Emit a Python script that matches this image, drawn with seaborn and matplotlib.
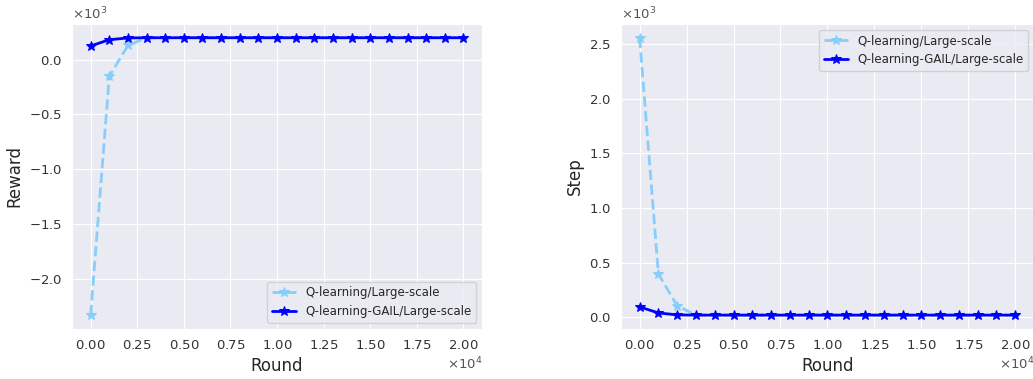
import numpy as np
import pandas as pd
import matplotlib
matplotlib.use("Agg")
import matplotlib.pyplot as plt
import seaborn as sns

# ─── Data ─────────────────────────────────────────────────────────────────────
rounds = [0, 1000, 2000, 3000, 4000, 5000, 6000, 7000, 8000, 9000, 10000,
          11000, 12000, 13000, 14000, 15000, 16000, 17000, 18000, 19000, 20000]

reward_q    = [-2330, -152, 130, 200, 200, 200, 200, 200, 200, 200, 200,
               200, 200, 200, 200, 200, 200, 200, 200, 200, 200]
reward_gail = [125, 182, 198, 200, 200, 200, 200, 200, 200, 200, 200,
               200, 200, 200, 200, 200, 200, 200, 200, 200, 200]

step_q    = [2558, 397, 105, 20, 20, 20, 20, 20, 20, 20, 20,
             20, 20, 20, 20, 20, 20, 20, 20, 20, 20]
step_gail = [95, 40, 22, 20, 20, 20, 20, 20, 20, 20, 20,
             20, 20, 20, 20, 20, 20, 20, 20, 20, 20]

labels = ["Q-learning/Large-scale", "Q-learning-GAIL/Large-scale"]
colors = ["#87CEFA", "#0000FF"]
styles = ["--", "-"]

# ─── Plot ─────────────────────────────────────────────────────────────────────
sns.set_style("darkgrid")
plt.rcParams["font.family"] = ["DejaVu Sans"]

fig = plt.figure(figsize=(10.33, 3.79), dpi=100)
ax1 = fig.add_axes([0.0697, 0.132, 0.397, 0.805])
ax2 = fig.add_axes([0.601, 0.132, 0.400, 0.805])


def draw(ax, series, ylabel, loc):
    for vals, lab, col, ls in zip(series, labels, colors, styles):
        sns.lineplot(x=rounds, y=vals, ax=ax, color=col, linestyle=ls,
                     linewidth=2, marker="*", markersize=7,
                     markeredgecolor=col, markerfacecolor=col, label=lab)
    ax.set_xlabel("Round", fontsize=12)
    ax.set_ylabel(ylabel, fontsize=12)
    ax.ticklabel_format(style="sci", axis="both", scilimits=(0, 0), useMathText=True)
    ax.tick_params(labelsize=9.5, colors="#333333")
    ax.xaxis.get_offset_text().set_fontsize(9.5)
    ax.yaxis.get_offset_text().set_fontsize(9.5)
    ax.xaxis.get_offset_text().set_color("#555555")
    ax.yaxis.get_offset_text().set_color("#555555")
    ax.set_xticks(np.arange(0, 20001, 2500))
    ax.legend(loc=loc, fontsize=8.5)


draw(ax1, [reward_q, reward_gail], "Reward", "lower right")
draw(ax2, [step_q, step_gail], "Step", "upper right")

plt.savefig("out.png", dpi=100)
plt.close()
